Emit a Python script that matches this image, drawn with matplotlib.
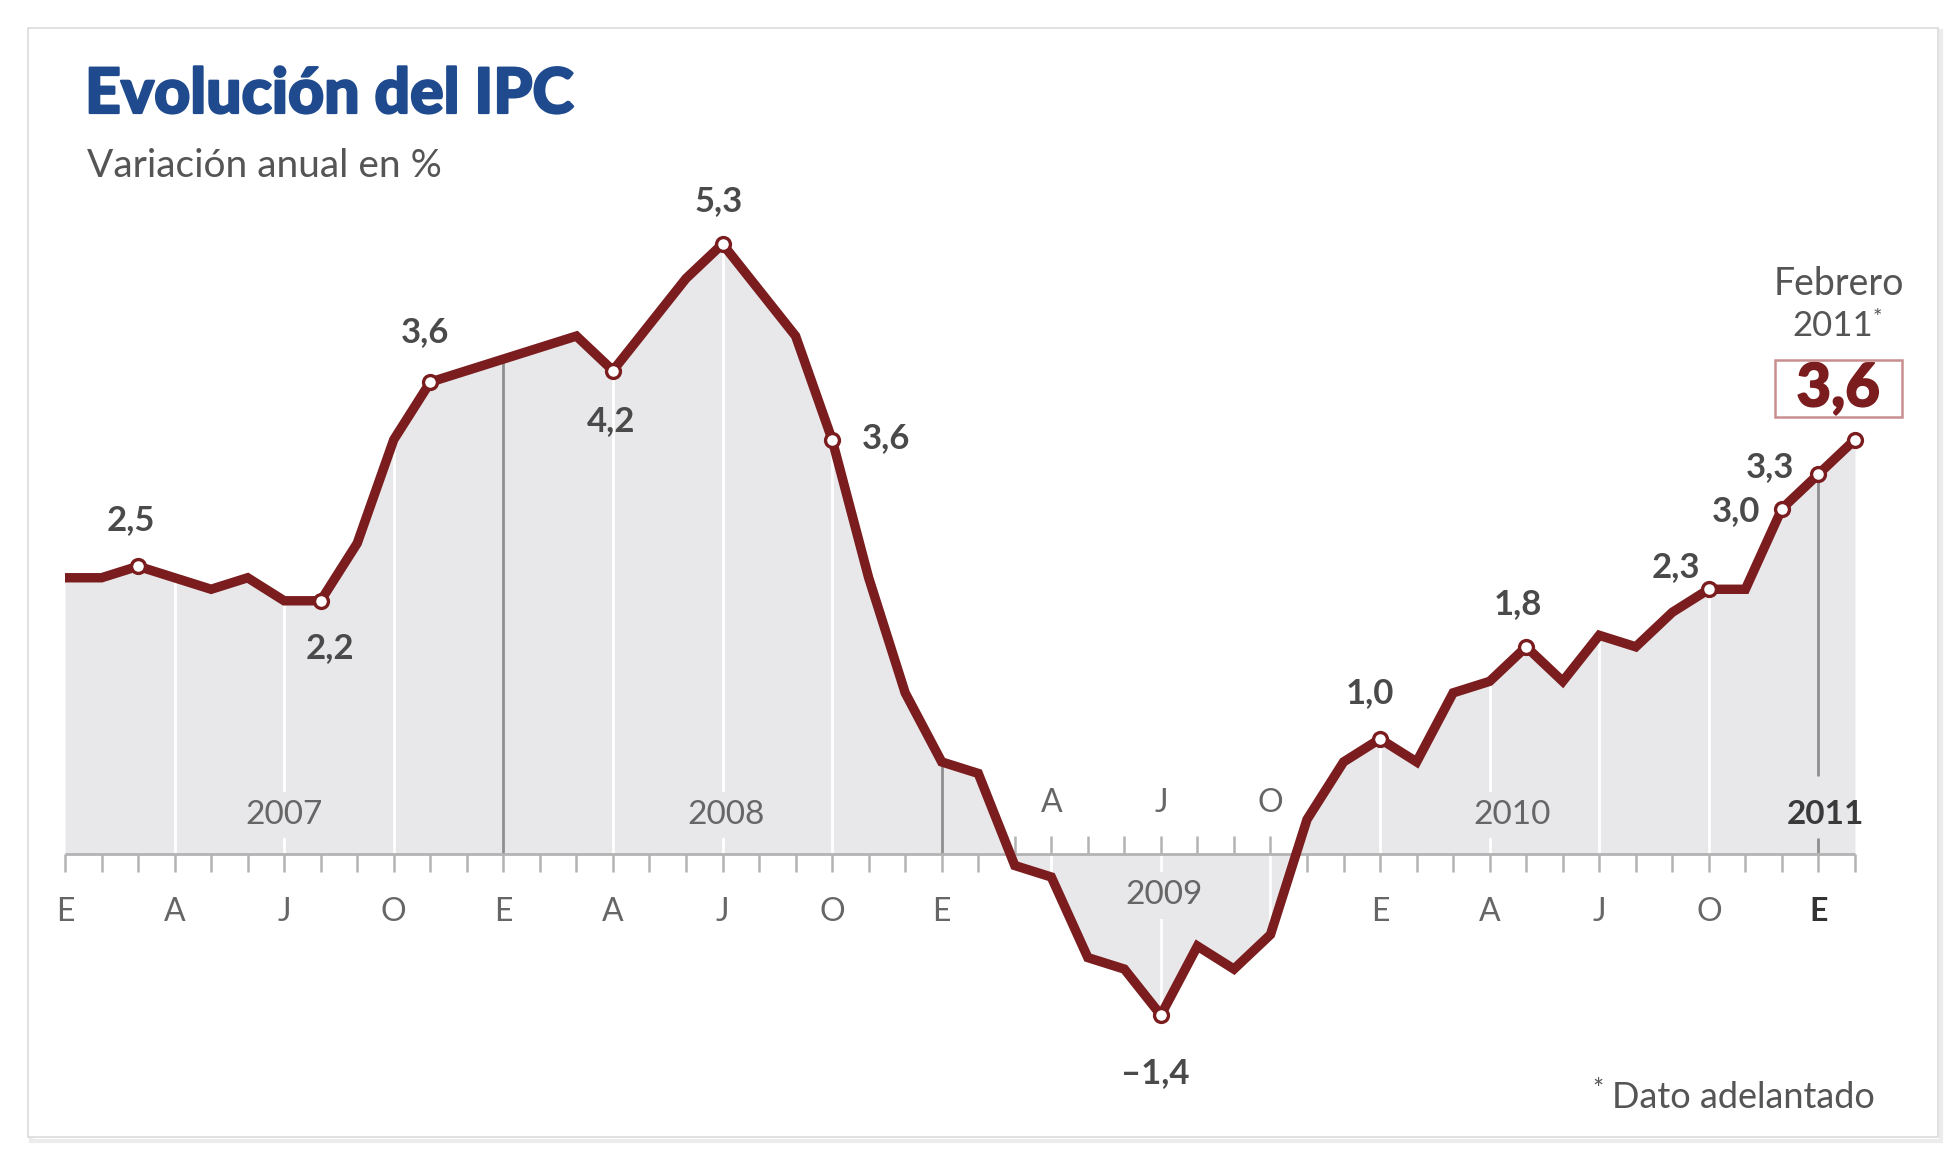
import matplotlib
matplotlib.use('Agg')
import matplotlib.pyplot as plt
import matplotlib.patheffects as pe
from matplotlib.patches import Rectangle

# ---------------- data ----------------
month_letters = ['E', 'F', 'M', 'A', 'M', 'J', 'J', 'A', 'S', 'O', 'N', 'D']
years = [2007, 2008, 2009, 2010, 2011]
ipc = [2.4, 2.4, 2.5, 2.4, 2.3, 2.4, 2.2, 2.2, 2.7, 3.6, 4.1, 4.2,
       4.3, 4.4, 4.5, 4.2, 4.6, 5.0, 5.3, 4.9, 4.5, 3.6, 2.4, 1.4,
       0.8, 0.7, -0.1, -0.2, -0.9, -1.0, -1.4, -0.8, -1.0, -0.7, 0.3, 0.8,
       1.0, 0.8, 1.4, 1.5, 1.8, 1.5, 1.9, 1.8, 2.1, 2.3, 2.3, 3.0,
       3.3, 3.6]
# labelled points (month index from Jan 2007) and their printed labels
label_idx = [2, 7, 10, 15, 18, 21, 30, 36, 40, 45, 47, 48]
label_txt = ['2,5', '2,2', '3,6', '4,2', '5,3', '3,6', '\u20131,4', '1,0', '1,8', '2,3', '3,0', '3,3']
label_off = [(-5, 33), (7, -34), (-4, 36), (-1, -36), (-3, 31), (39, 1),
             (-4, -42), (-7, 33), (-6, 31), (-24, 16), (-33, -2), (-35, 5)]
last_label = '3,6'
title = 'Evolución del IPC'
subtitle = 'Variación anual en %'
footnote = 'Dato adelantado'

# ---------------- style ----------------
W, H = 1960, 1157
LINE = '#7b1d1f'
FILL = '#e8e8eb'
TXT = '#4a4a4a'
TICKC = '#b3b3b3'
FONT = 'Lato'

fig = plt.figure(figsize=(W / 100, H / 100), dpi=100)
fig.patch.set_facecolor('white')

def fx(px):
    return px / W

def fy(py):
    return 1 - py / H

# outer frame with soft shadow
fig.patches.append(Rectangle((fx(31), fy(1141)), fx(1910), (1141 - 31) / H,
                             transform=fig.transFigure, facecolor='none',
                             edgecolor='#ececec', lw=3, zorder=-2))
fig.patches.append(Rectangle((fx(28), fy(1137)), fx(1910), (1137 - 28) / H,
                             transform=fig.transFigure, facecolor='white',
                             edgecolor='#dcdcdc', lw=1.2, zorder=-1))

ax = fig.add_axes([0, 0, 1, 1])
ax.set_zorder(1)
ax.set_facecolor('none')
x_left_px, step_px = 65, 36.53
zero_px, unit_px = 854, 115.1
ax.set_xlim(-x_left_px / step_px, (W - x_left_px) / step_px)
ax.set_ylim(-(H - zero_px) / unit_px, zero_px / unit_px)
ax.axis('off')

x = list(range(len(ipc)))
ax.fill_between(x, ipc, 0, color=FILL, lw=0, zorder=1)

# vertical guide lines at each quarter
last_i = len(ipc) - 1
for i in range(0, len(ipc), 3):
    if i == 0:
        continue
    yr = years[i // 12]
    if i % 12 == 0 and yr in (2008, 2009, 2011):
        if yr == 2011:
            # interrupted by the bold year label
            ax.vlines(i, 0.68, ipc[i], color='#8f8f8f', lw=2, zorder=2)
            ax.vlines(i, 0, 0.14, color='#8f8f8f', lw=2, zorder=2)
        else:
            ax.vlines(i, 0, ipc[i], color='#8f8f8f', lw=2, zorder=2)
    else:
        ax.vlines(i, 0, ipc[i], color='white', lw=2, zorder=2)

# baseline and monthly ticks
ax.hlines(0, 0, last_i, color=TICKC, lw=2, zorder=3)
tl = 0.16
for i, v in enumerate(ipc):
    if v < 0:
        ax.vlines(i, 0, tl, color=TICKC, lw=1.8, zorder=3)
    else:
        ax.vlines(i, -tl, 0, color=TICKC, lw=1.8, zorder=3)

# month tick labels
for i in range(0, len(ipc), 3):
    v = ipc[i]
    yy = -0.5 if v >= 0 else 0.44
    bold = (i == 48)
    ax.text(i, yy, month_letters[i % 12], ha='center', va='center',
            fontsize=23, family=FONT, color='#333333' if bold else '#666666',
            fontweight='bold' if bold else 'normal', zorder=4)

# year labels
year_pos = [(6.0, 0.34), (18.1, 0.34), (30.1, -0.36), (39.6, 0.34), (48.2, 0.34)]
for (xp, yp), yr in zip(year_pos, years):
    bold = yr == 2011
    kw = {}
    if not bold:
        kw['bbox'] = dict(boxstyle='square,pad=0.25', facecolor=FILL, edgecolor='none')
    ax.text(xp, yp, str(yr), ha='center', va='center', fontsize=24, family=FONT,
            color='#3a3a3a' if bold else '#666666',
            fontweight='bold' if bold else 'normal', zorder=4, **kw)

# the line
ax.plot(x, ipc, color=LINE, lw=6.8, zorder=5, solid_joinstyle='miter', solid_capstyle='butt')
mk_idx = label_idx + [last_i]
ax.plot(mk_idx, [ipc[i] for i in mk_idx], 'o', ms=10, mfc='white', mec=LINE, mew=2.4, zorder=6)

for i, t, off in zip(label_idx, label_txt, label_off):
    ax.annotate(t, (i, ipc[i]), xytext=off, textcoords='offset points',
                ha='center', va='center', fontsize=25, fontweight='bold',
                family=FONT, color=TXT, zorder=7)

# highlighted last value
ax.annotate(last_label, (last_i, ipc[last_i]), xytext=(-12, 37), textcoords='offset points',
            ha='center', va='center', fontsize=43, fontweight='black', family=FONT,
            color=LINE, zorder=7,
            path_effects=[pe.withStroke(linewidth=1.2, foreground=LINE)])
ax.add_patch(Rectangle((fx(1775), fy(417)), fx(127), 57 / H,
                       transform=fig.transFigure, facecolor='none',
                       edgecolor='#c98f8f', lw=1.8, zorder=8))
fig.text(fx(1839), fy(284), 'Febrero', ha='center', va='center', fontsize=27,
         family=FONT, color='#555555')
fig.text(fx(1833), fy(326), '2011', ha='center', va='center', fontsize=25,
         family=FONT, color='#555555')
fig.text(fx(1873), fy(318), '*', ha='left', va='center', fontsize=16,
         family=FONT, color='#555555')

# titles
fig.text(fx(85), fy(95), title, ha='left', va='center', fontsize=45,
         fontweight='black', family=FONT, color='#1f4b8e',
         path_effects=[pe.withStroke(linewidth=1.6, foreground='#1f4b8e')])
fig.text(fx(87), fy(166), subtitle, ha='left', va='center', fontsize=28,
         family=FONT, color='#555555')

# footnote
fig.text(fx(1875), fy(1097), footnote, ha='right', va='center', fontsize=26,
         family=FONT, color='#555555')
fig.text(fx(1604), fy(1090), '*', ha='right', va='center', fontsize=19,
         family=FONT, color='#555555')

fig.savefig('out.png', dpi=100, facecolor='white')
